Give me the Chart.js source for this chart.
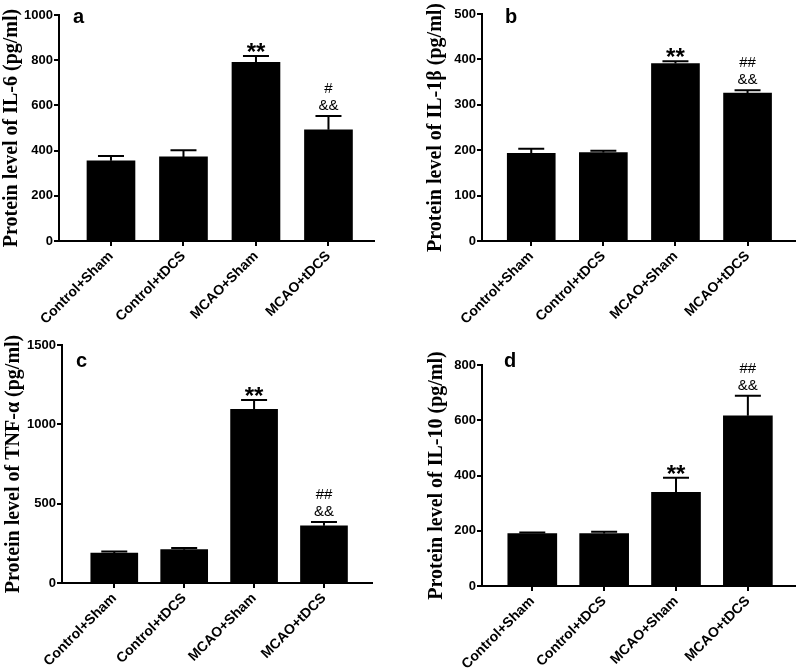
<!DOCTYPE html>
<html>
<head>
<meta charset="utf-8">
<script src="https://cdn.jsdelivr.net/npm/chart.js@4.4.1/dist/chart.umd.min.js"></script>
<style>
  html, body { margin: 0; padding: 0; background: #fff; }
  #wrap { position: relative; width: 797px; height: 669px; overflow: hidden; }
  canvas { position: absolute; }
</style>
</head>
<body>
<div id="wrap">
  <canvas id="chartA" width="400" height="330" style="left:0;top:0"></canvas>
  <canvas id="chartB" width="397" height="330" style="left:400px;top:0"></canvas>
  <canvas id="chartC" width="400" height="339" style="left:0;top:330px"></canvas>
  <canvas id="chartD" width="397" height="339" style="left:400px;top:330px"></canvas>
</div>
<script>
// ---------- data ----------
const groups = ['Control+Sham', 'Control+tDCS', 'MCAO+Sham', 'MCAO+tDCS'];

const il6Mean = [355, 372, 791, 492];
const il6Sem = [21, 29, 28, 61];

const il1bMean = [193, 195, 391, 326];
const il1bSem = [10, 4, 5, 6];

const tnfMean = [189, 210, 1095, 361];
const tnfSem = [10, 10, 59, 23];

const il10Mean = [190, 190, 339, 616];
const il10Sem = [4, 6, 53, 73];

// significance marks: first line right above the error bar, second line above it
const sigLower = ['', '', '**', '&&'];
const sigUpperA = ['', '', '', '#'];
const sigUpper = ['', '', '', '##'];

Chart.defaults.color = '#000';

// ---------- error bars, significance marks, panel letter ----------
const errorBars = {
  id: 'errorBars',
  afterDatasetsDraw(chart, args, opts) {
    const ctx = chart.ctx;
    const xs = chart.scales.x, ys = chart.scales.y;
    ctx.save();
    ctx.strokeStyle = '#000';
    ctx.fillStyle = '#000';
    ctx.lineWidth = 2;
    opts.mean.forEach((m, i) => {
      const px = xs.getPixelForValue(i);
      const y0 = ys.getPixelForValue(m);
      const y1 = ys.getPixelForValue(m + opts.sem[i]);
      ctx.beginPath();
      ctx.moveTo(px, y0);
      ctx.lineTo(px, y1);
      ctx.moveTo(px - 13, y1);
      ctx.lineTo(px + 13, y1);
      ctx.stroke();

      let bottom = y1;
      [opts.lower[i], opts.upper[i]].forEach((t, k) => {
        if (!t) return;
        const star = t.startsWith('*');
        ctx.font = star ? 'bold 24px "Liberation Sans"' : '15px "Liberation Sans"';
        ctx.textAlign = 'center';
        ctx.textBaseline = 'alphabetic';
        const mt = ctx.measureText(t);
        bottom -= k === 0 ? (star ? 4 : 6) : 7;
        const base = bottom - mt.actualBoundingBoxDescent;
        ctx.fillText(t, px, base);
        bottom = base - mt.actualBoundingBoxAscent;
      });
    });
    const a = chart.chartArea;
    ctx.font = 'bold 20px "Liberation Sans"';
    ctx.textAlign = 'left';
    ctx.textBaseline = 'alphabetic';
    ctx.fillText(opts.letter, a.left + opts.letterAt[0], a.top + opts.letterAt[1]);
    ctx.restore();
  }
};

function makePanel(canvasId, p) {
  return new Chart(document.getElementById(canvasId), {
    type: 'bar',
    data: {
      datasets: [{
        data: p.mean.map((v, i) => ({ x: i, y: v })),
        backgroundColor: '#000',
        borderWidth: 0,
        barThickness: p.barWidth
      }]
    },
    options: {
      responsive: false,
      animation: false,
      layout: { padding: p.pad },
      plugins: {
        legend: { display: false },
        tooltip: { enabled: false },
        errorBars: { mean: p.mean, sem: p.sem, lower: sigLower, upper: p.upper, letter: p.letter, letterAt: p.letterAt }
      },
      scales: {
        x: {
          type: 'linear',
          min: p.xMin,
          max: p.xMax,
          offset: false,
          afterBuildTicks: s => { s.ticks = groups.map((g, i) => ({ value: i })); },
          afterFit: s => { s.height = p.xHeight; },
          grid: { drawOnChartArea: false, drawTicks: true, tickLength: 5, color: '#000', lineWidth: 2, offset: false },
          border: { display: true, color: '#000', width: 2 },
          ticks: {
            autoSkip: false, minRotation: 45, maxRotation: 45, padding: 2,
            font: { family: 'Liberation Sans', size: 14, weight: 'bold' },
            callback: v => groups[v] ?? ''
          }
        },
        y: {
          min: 0,
          max: p.yMax,
          afterFit: s => { s.width = p.yWidth; },
          grid: { drawOnChartArea: false, drawTicks: true, tickLength: 5, color: '#000', lineWidth: 2 },
          border: { display: true, color: '#000', width: 2 },
          ticks: {
            stepSize: p.yStep, padding: 1,
            font: { family: 'Liberation Sans', size: 13, weight: 'bold' },
            callback: v => String(v)
          },
          title: {
            display: true, text: p.title, padding: 0,
            font: { family: 'Liberation Serif', size: 20, weight: 'bold' }
          }
        }
      }
    },
    plugins: [errorBars]
  });
}

makePanel('chartA', {
  title: 'Protein level of IL-6 (pg/ml)', letter: 'a', letterAt: [14, 8],
  mean: il6Mean, sem: il6Sem, upper: sigUpperA,
  yMax: 1000, yStep: 200, xMin: -0.717, xMax: 3.628, barWidth: 48,
  pad: { left: 0, top: 15, right: 26, bottom: 0 }, yWidth: 59, xHeight: 89
});
makePanel('chartB', {
  title: 'Protein level of IL-1β (pg/ml)', letter: 'b', letterAt: [23, 9],
  mean: il1bMean, sem: il1bSem, upper: sigUpper,
  yMax: 500, yStep: 100, xMin: -0.683, xMax: 3.658, barWidth: 48,
  pad: { left: 24, top: 14, right: 2, bottom: 0 }, yWidth: 58, xHeight: 89
});
makePanel('chartC', {
  title: 'Protein level of TNF-α (pg/ml)', letter: 'c', letterAt: [14, 22],
  mean: tnfMean, sem: tnfSem, upper: sigUpper,
  yMax: 1500, yStep: 500, xMin: -0.748, xMax: 3.687, barWidth: 47,
  pad: { left: 2, top: 15, right: 28, bottom: 0 }, yWidth: 60, xHeight: 86
});
makePanel('chartD', {
  title: 'Protein level of IL-10 (pg/ml)', letter: 'd', letterAt: [22, 2],
  mean: il10Mean, sem: il10Sem, upper: sigUpper,
  yMax: 800, yStep: 200, xMin: -0.70, xMax: 3.656, barWidth: 49,
  pad: { left: 25, top: 35, right: 2, bottom: 0 }, yWidth: 57, xHeight: 83
});
</script>
</body>
</html>
